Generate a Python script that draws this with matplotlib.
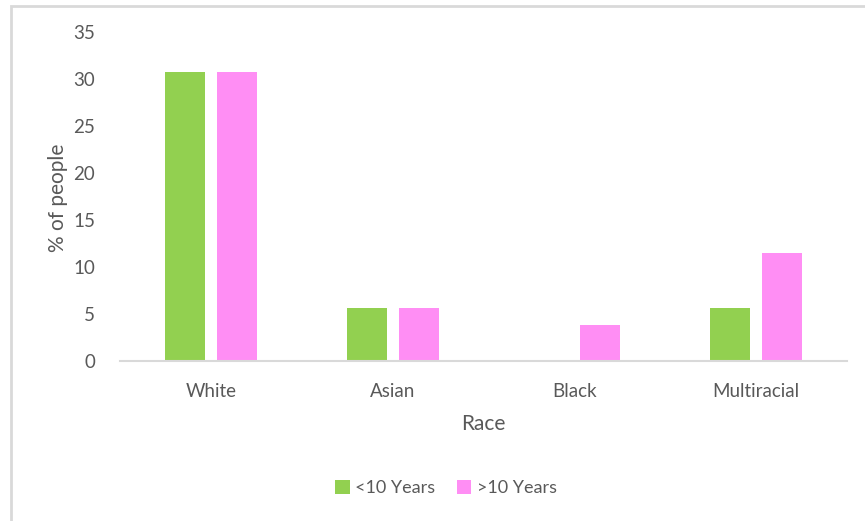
import numpy as np
import matplotlib.pyplot as plt
from matplotlib.patches import Rectangle

races = ["White", "Asian", "Black", "Multiracial"]
under_10 = [30.7, 5.6, 0.0, 5.6]
over_10 = [30.7, 5.6, 3.8, 11.5]
yticks = [0, 5, 10, 15, 20, 25, 30, 35]

GREEN = "#92D050"
PINK = "#FF8EF4"
GRAY_TXT = "#595959"
GRAY_LINE = "#D9D9D9"

plt.rcParams['font.family'] = ['Lato', 'DejaVu Sans']

fig = plt.figure(figsize=(8.65, 5.21), dpi=100)
W, H = 865, 521
ax = fig.add_axes([120 / W, 1 - 361 / H, (847 - 120) / W, (361 - 32) / H])

x = np.arange(len(races))
w = 0.22
off = 0.143
ax.bar(x - off, under_10, width=w, color=GREEN, label="<10 Years")
ax.bar(x + off, over_10, width=w, color=PINK, label=">10 Years")

ax.set_xlim(-0.5, len(races) - 0.5)
ax.set_ylim(0, 35)
ax.set_yticks(yticks)
ax.set_xticks(x)
ax.set_xticklabels(races)
ax.tick_params(axis='both', length=0, labelsize=13.5, colors=GRAY_TXT)
ax.tick_params(axis='y', pad=18)
ax.tick_params(axis='x', pad=15.5)
for s in ["top", "right", "left"]:
    ax.spines[s].set_visible(False)
ax.spines["bottom"].set_color(GRAY_LINE)
ax.spines["bottom"].set_linewidth(1.5)

fig.text(58 / W, 1 - 198 / H, "% of people", rotation=90, ha='center', va='center',
         fontsize=15, color=GRAY_TXT)
fig.text(483 / W, 1 - 424 / H, "Race", ha='center', va='center',
         fontsize=15, color=GRAY_TXT)

fig.legend(loc='center', bbox_to_anchor=(446 / W, 1 - 488 / H), ncol=2, frameon=False,
           fontsize=13, labelcolor=GRAY_TXT, handlelength=0.8, handleheight=0.8,
           handletextpad=0.3, columnspacing=1.2)

# outer chart frame
fig.patches.append(Rectangle((11 / W, -0.1), 1.2, 1 - 6 / H + 0.1, transform=fig.transFigure,
                             fill=False, edgecolor=GRAY_LINE, linewidth=2))

fig.savefig("out.png", dpi=100)
